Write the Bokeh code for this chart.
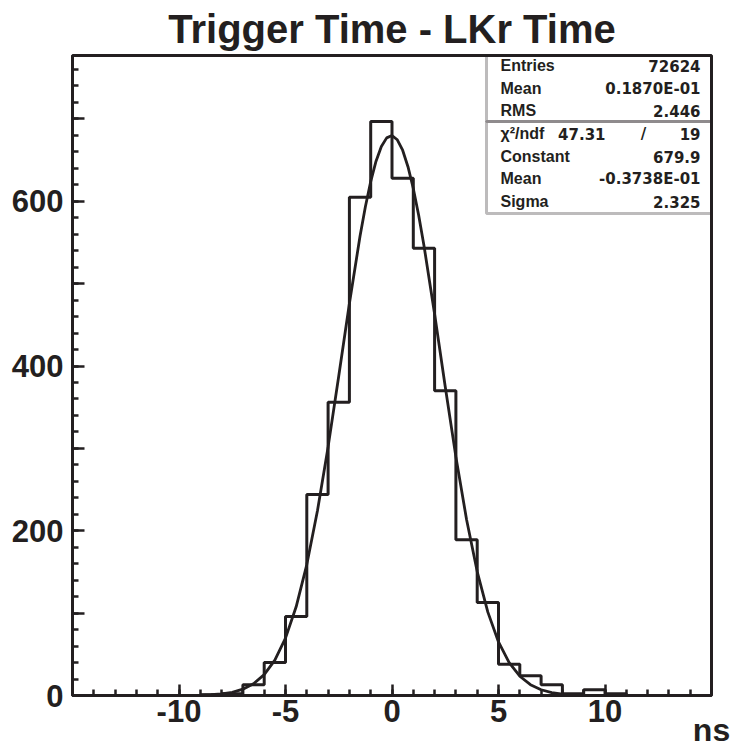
from bokeh.plotting import figure
from bokeh.models import Range1d, FixedTicker, Label, BoxAnnotation, LinearAxis
from bokeh.embed import file_html
from bokeh.resources import INLINE

# ---------------- data ----------------
title_text = "Trigger Time - LKr Time"
x_axis_label = "ns"

bin_lefts = list(range(-15, 15))          # 1 ns bins from -15 to 15
counts = [0, 0, 0, 0, 0,
          0, 1, 2, 13, 40,
          96, 244, 356, 605, 697,
          628, 543, 370, 189, 113,
          38, 24, 13, 2, 7,
          2, 0, 0, 0, 0]

fit_x = [-10, -9.5, -9, -8.5, -8, -7.5, -7, -6.5, -6, -5.5, -5, -4.5, -4, -3.5,
         -3, -2.5, -2, -1.5, -1.25, -1, -0.75, -0.5, -0.25, 0, 0.25, 0.5, 0.75,
         1, 1.25, 1.5, 2, 2.5, 3, 3.5, 4, 4.5, 5, 5.5, 6, 6.5, 7, 7.5, 8, 8.5,
         9, 9.5, 10]
fit_y = [0.07, 0.17, 0.4, 0.9, 1.9, 3.9, 7.7, 14.3, 25.3, 43.0, 69.6, 107.7, 159.0, 224.2,
         301.8, 387.9, 476.0, 557.8, 593.4, 624.0, 648.7, 666.6, 677.0, 679.8, 674.7, 662.0, 642.0,
         615.5, 583.3, 546.4, 463.1, 374.8, 289.7, 213.7, 150.5, 101.2, 65.0, 39.9, 23.4, 13.1, 7.0, 3.6, 1.7, 0.8,
         0.4, 0.15, 0.06]

stats_top_names = ["Entries", "Mean", "RMS"]
stats_top_values = ["72624", "0.1870E-01", "2.446"]
chi2_value = "47.31"
ndf_value = "19"
stats_fit_names = ["Constant", "Mean", "Sigma"]
stats_fit_values = ["679.9", "-0.3738E-01", "2.325"]

x_ticks = [-10, -5, 0, 5, 10]
x_tick_labels = ["-10", "-5", "0", "5", "10"]
y_ticks = [0, 100, 200, 300, 400, 500, 600, 700]
y_tick_labels = ["0", "", "200", "", "400", "", "600", ""]

# ---------------- layout ----------------
W, H = 736, 751
FL, FR, FT, FB = 72, 711, 55, 695
XMIN, XMAX, YMIN, YMAX = -15, 15, 0, 777
ink = "#231f20"
font = "Liberation Sans"
num_font = "DejaVu Sans"


def X(px):
    return XMIN + (px - FL) * (XMAX - XMIN) / (FR - FL)


def Y(py):
    return YMIN + (FB - py) * (YMAX - YMIN) / (FB - FT)


p = figure(width=W, height=H, x_range=Range1d(XMIN, XMAX), y_range=Range1d(YMIN, YMAX),
           output_backend="svg", toolbar_location=None,
           min_border_left=FL, min_border_right=W - FR,
           min_border_top=FT, min_border_bottom=H - FB)
p.grid.visible = False
p.background_fill_color = "white"
p.border_fill_color = "white"
p.outline_line_color = ink
p.outline_line_width = 3

p.title.text = title_text
p.title.align = "center"
p.title.text_font = font
p.title.text_font_style = "bold"
p.title.text_font_size = "40px"
p.title.text_color = ink
p.title.standoff = 9

for ax in (p.xaxis[0], p.yaxis[0]):
    ax.axis_line_color = ink
    ax.axis_line_width = 3
    ax.major_tick_line_color = ink
    ax.minor_tick_line_color = ink
    ax.major_tick_line_width = 2.5
    ax.minor_tick_line_width = 2.5
    ax.major_tick_out = 0
    ax.minor_tick_out = 0
    ax.minor_tick_in = 6
    ax.major_label_text_font = font
    ax.major_label_text_font_style = "bold"
    ax.major_label_text_font_size = "31px"
    ax.major_label_text_color = ink

p.xaxis.ticker = FixedTicker(ticks=x_ticks, minor_ticks=list(range(XMIN, XMAX + 1)))
p.xaxis.major_label_overrides = dict(zip(x_ticks, x_tick_labels))
p.xaxis.major_tick_in = 11
p.xaxis.major_label_standoff = 4

p.yaxis.ticker = FixedTicker(ticks=y_ticks, minor_ticks=list(range(0, 780, 20)))
p.yaxis.major_label_overrides = dict(zip(y_ticks, y_tick_labels))
p.yaxis.major_tick_in = 12
p.yaxis.major_label_standoff = 9

# axis title "ns" at the right end, below the tick labels
ns_axis = LinearAxis(ticker=FixedTicker(ticks=[XMAX]), major_label_overrides={XMAX: x_axis_label},
                     axis_line_color=None, major_tick_line_color=None, minor_tick_line_color=None,
                     major_label_standoff=-19, major_label_text_font=font,
                     major_label_text_font_style="bold", major_label_text_font_size="32px",
                     major_label_text_color=ink)
p.add_layout(ns_axis, "below")

# histogram (step outline)
step_x = bin_lefts + [bin_lefts[-1] + 1]
step_y = counts + [counts[-1]]
p.step(step_x, step_y, mode="after", line_color=ink, line_width=3)

# fit curve
p.line(fit_x, fit_y, line_color=ink, line_width=2.8)

# stats box
for top_py, bot_py in ((FT, 121), (121, 213)):
    p.add_layout(BoxAnnotation(left=X(486), right=XMAX, top=Y(top_py), bottom=Y(bot_py),
                               fill_color=None, line_color=ink, line_width=3))


def txt(x, y, s, align, f=font, size="16px"):
    p.add_layout(Label(x=x, y=y, text=s, text_align=align, text_baseline="middle",
                       text_font=f, text_font_style="bold", text_font_size=size,
                       text_color=ink))


rows_top = [65, 88, 110]
for py, n, v in zip(rows_top, stats_top_names, stats_top_values):
    txt(X(500), Y(py), n, "left")
    txt(X(700), Y(py), v, "right", num_font, "15px")

txt(X(500), Y(133), "\u03c7\u00b2/ndf", "left")
txt(X(605), Y(133), chi2_value, "right", num_font, "15px")
txt(X(643), Y(133), "/", "center", num_font, "15px")
txt(X(700), Y(133), ndf_value, "right", num_font, "15px")

rows_fit = [156, 178, 201]
for py, n, v in zip(rows_fit, stats_fit_names, stats_fit_values):
    txt(X(500), Y(py), n, "left")
    txt(X(700), Y(py), v, "right", num_font, "15px")

open("out.html", "w").write(file_html(p, INLINE))
